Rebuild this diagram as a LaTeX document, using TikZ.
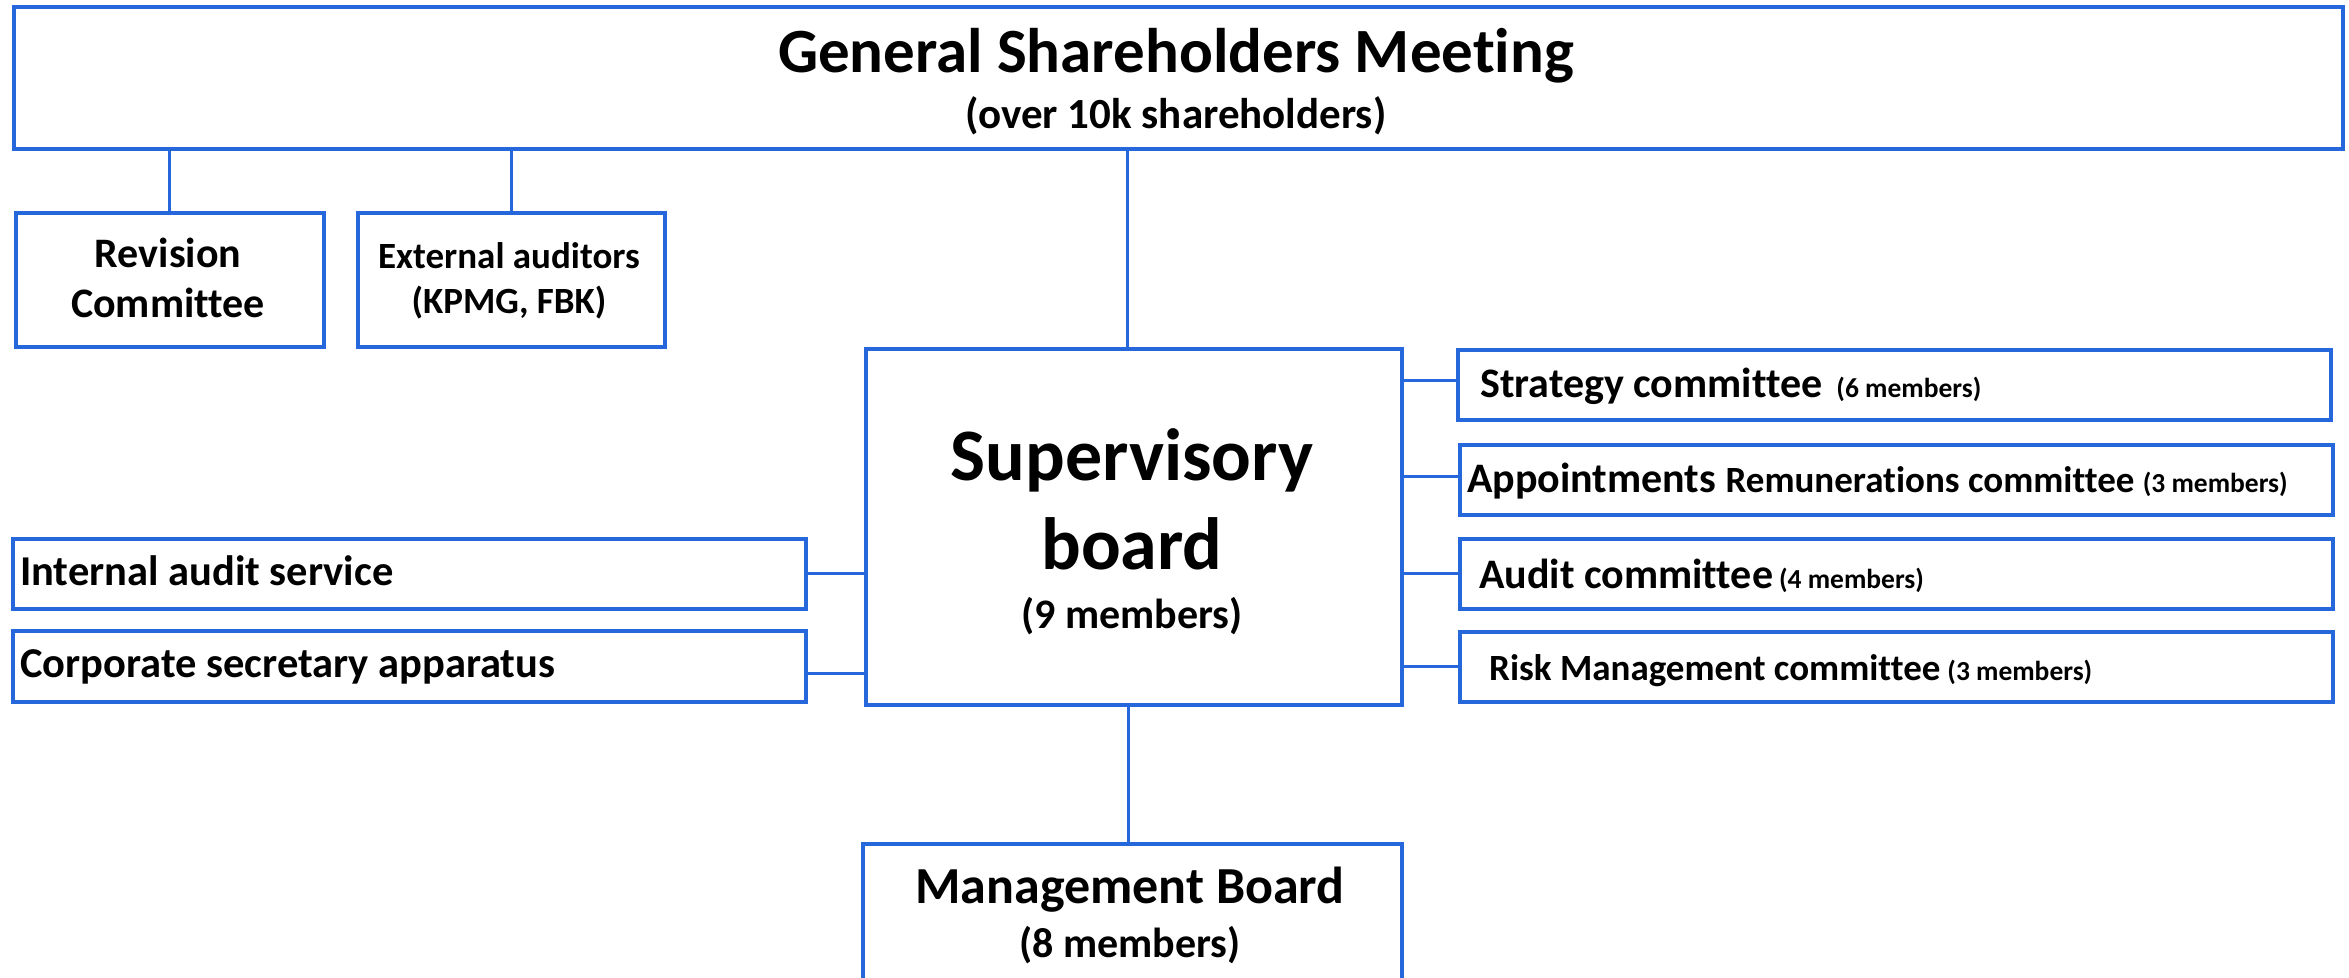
\documentclass[tikz,border=0pt]{standalone}
\usepackage{fontspec}
\setmainfont{Carlito}[RawFeature={-liga;-clig;-calt;-dlig}]
\definecolor{lineblue}{RGB}{38,104,220}
\newcommand{\myfs}[1]{\fontsize{#1}{#1}\selectfont}
\begin{document}
\begin{tikzpicture}[x=1pt,y=-1pt,
  box/.style={draw=lineblue,line width=3.5pt,fill=white,inner sep=0pt,anchor=north west,rectangle},
  conn/.style={draw=lineblue,line width=2.8pt},
  txt/.style={inner sep=0pt,font=\bfseries,text=black}]
\useasboundingbox (0,0) rectangle (2349,977);
\clip (0,0) rectangle (2349,977);
% boxes
\node[box,minimum width=2329pt,minimum height=142pt] (gsm) at (12,5) {};
\node[box,minimum width=308pt,minimum height=134pt] (rev) at (14,211) {};
\node[box,minimum width=307pt,minimum height=134pt] (ext) at (356,211) {};
\node[box,minimum width=536pt,minimum height=356pt] (sup) at (864,347) {};
\node[box,minimum width=539pt,minimum height=180pt] (mgmt) at (861,842) {};
\node[box,minimum width=793pt,minimum height=70pt] (ias) at (11,537) {};
\node[box,minimum width=793pt,minimum height=71pt] (csa) at (11,629) {};
\node[box,minimum width=873pt,minimum height=70pt] (strat) at (1456,348) {};
\node[box,minimum width=873pt,minimum height=70pt] (appt) at (1458,443) {};
\node[box,minimum width=873pt,minimum height=70pt] (audc) at (1458,537) {};
\node[box,minimum width=873pt,minimum height=70pt] (risk) at (1458,630) {};
% connectors
\draw[conn] (rev.north) -- (rev.north |- gsm.south);
\draw[conn] (ext.north) -- (ext.north |- gsm.south);
\draw[conn] ([xshift=-6pt]sup.north) -- ([xshift=-6pt]sup.north |- gsm.south);
\draw[conn] ([xshift=-4pt]mgmt.north) -- ([xshift=-4pt]mgmt.north |- sup.south);
\draw[conn] ([yshift=4pt]strat.west) -- ([yshift=4pt]strat.west -| sup.east);
\draw[conn] ([yshift=3pt]appt.west) -- ([yshift=3pt]appt.west -| sup.east);
\draw[conn] (audc.west) -- (audc.west -| sup.east);
\draw[conn] (risk.west) -- (risk.west -| sup.east);
\draw[conn] (ias.east) -- (ias.east -| sup.west);
\draw[conn] ([yshift=-7pt]csa.east) -- ([yshift=-7pt]csa.east -| sup.west);
% texts
\node[txt,anchor=base] (t1) at (1176,72) {\myfs{63}General Shareholders Meeting};
\node[txt,anchor=base] (t2) at (1176,128) {\myfs{43}(over 10k shareholders)};
\node[txt,anchor=base] (t3) at (168,267) {\myfs{42}Revision};
\node[txt,anchor=base] (t4) at (168,317) {\myfs{42}Committee};
\node[txt,anchor=base] (t5) at (509,268) {\myfs{37}External auditors};
\node[txt,anchor=base] (t6) at (509,313) {\myfs{37}(KPMG, FBK)};
\node[txt,anchor=base] (t7) at (1132,480) {\myfs{74}Supervisory};
\node[txt,anchor=base] (t8) at (1132,569) {\myfs{74}board};
\node[txt,anchor=base] (t9) at (1132,628) {\myfs{42}(9 members)};
\node[txt,anchor=base] (t10) at (1130,903) {\myfs{52}Management Board};
\node[txt,anchor=base] (t11) at (1130,957) {\myfs{42}(8 members)};
\node[txt,anchor=base west] (t12) at (20,585) {\myfs{42.5}Internal audit service};
\node[txt,anchor=base west] (t13) at (20,677) {\myfs{42.5}Corporate secretary apparatus};
\node[txt,anchor=base west] (t14) at (1480,397) {\myfs{42}Strategy committee\hspace{14pt}\myfs{27.5}(6 members)};
\node[txt,anchor=base west] (t15) at (1467,492) {\myfs{42}Appointments \myfs{37}Remunerations committee \myfs{27.5}(3 members)};
\node[txt,anchor=base west] (t16) at (1479,588) {\myfs{42}Audit committee\hspace{6pt}\myfs{27.5}(4 members)};
\node[txt,anchor=base west] (t17) at (1489,680) {\myfs{37}Risk Management committee\hspace{7pt}\myfs{27.5}(3 members)};
\end{tikzpicture}
\end{document}
